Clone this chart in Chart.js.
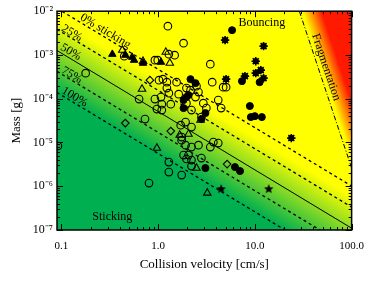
<!DOCTYPE html>
<html><head><meta charset="utf-8">
<script src="https://cdn.jsdelivr.net/npm/chart.js@4/dist/chart.umd.min.js"></script>
<style>html,body{margin:0;padding:0;background:#fff;}canvas{display:block;}</style>
</head><body>
<canvas id="c" width="374" height="281"></canvas>
<script>
// ---------------- data ----------------
const xTickValues = [0.1, 1, 10, 100];
const xTickLabels = ['0.1', '1.0', '10.0', '100.0'];
const yTickValues = [1e-7, 1e-6, 1e-5, 1e-4, 1e-3, 1e-2];

// sticking-probability contours: m = massAt1 * v^(stickSlope)
const stickLevels = ['0%', '25%', '50%', '75%', '100%'];
const stickMassAt1 = [4.7e-4, 1.55e-4, 5.1e-5, 1.7e-5, 5.6e-6];
const stickSlope = -4 / 3;

// fragmentation threshold (two points)
const fragVel = [28.8, 100];
const fragMass = [1e-2, 2.6e-6];

const openCircleVel  = [1.26,1.83,0.446,0.925,0.99,1.29,1.48,0.178,1.02,1.12,1.55,1.23,1.63,0.635,0.925,1.07,1.09,0.97,1.09,1.35,0.731,1.71,3.46,1.96,2.16,2.49,2.61,3.62,4.70,5.04,4.18,4.48,2.93,3.15,1.96,2.21,2.43,1.92,2.21,2.80,1.75,1.92,2.21,2.61,3.72,4.18,3.46,1.83,2.06,2.21,1.96,1.29,1.29,2.21,2.80,1.75,0.804,0.092,1.75,1.23,1.29];
const openCircleMass = [4.55e-3,1.86e-3,9.4e-4,7.6e-4,7.6e-4,1.04e-3,9.9e-4,3.84e-4,2.66e-4,2.8e-4,2.39e-4,1.75e-4,1.27e-4,9.8e-5,9.8e-5,1.09e-4,7.5e-5,5.8e-5,5.5e-5,7.5e-5,3.42e-5,2.49e-5,6.17e-4,1.75e-4,1.57e-4,1.94e-4,1.42e-4,2.39e-4,1.84e-4,1.84e-4,9.3e-5,6.1e-5,7.9e-5,6.1e-5,7.9e-5,5.5e-5,1.09e-4,2.92e-5,2.25e-5,3.8e-5,1.13e-5,8.7e-6,7.85e-6,8.7e-6,1.02e-5,9.7e-6,7.85e-6,5.15e-6,5.15e-6,3.96e-6,4.2e-6,3.57e-6,2.11e-6,2.89e-6,4.4e-6,1.8e-6,1.18e-6,8.3e-6,1.33e-5,2.39e-4,1.34e-4];

const filledCircleVel  = [1.83,1.83,5.81,7.35,11.2,2.16,2.43,2.06,1.96,8.87,9.08,9.98,11.8,3.08,2.80,3.08,6.22,7.02];
const filledCircleMass = [9.3e-5,6.1e-5,3.68e-3,2.52e-4,2.39e-4,2.8e-4,2.27e-4,1.21e-4,1.09e-4,6.8e-5,3.8e-5,4.0e-5,3.8e-5,4.7e-5,3.42e-5,2.6e-6,2.74e-6,2.22e-6];

const asteriskVel  = [4.92,12.3,10.2,10.2,11.5,12.3,7.89,5.04,23.8];
const asteriskMass = [2.18e-3,1.59e-3,7.2e-4,3.84e-4,4.5e-4,2.95e-4,3.28e-4,2.8e-4,1.26e-5];

const filledTriVel  = [0.336,0.457,0.538,0.564,0.698,1.07];
const filledTriMass = [1.04e-3,9.9e-4,8.9e-4,7.6e-4,6.5e-4,6.85e-4];

const openTriVel  = [0.426,0.698,1.20,1.32,0.681,1.67,2.06,2.74,0.97,2.49,3.22];
const openTriMass = [1.29e-3,7.2e-4,1.16e-3,6.5e-4,1.66e-4,1.48e-5,1.56e-5,3.24e-5,7.45e-6,2.6e-6,7.0e-7];

const diamondVel  = [0.822,0.457,1.35,5.16];
const diamondMass = [2.66e-4,2.77e-5,1.82e-5,3.21e-6];

const starVel  = [4.48,13.9];
const starMass = [8.6e-7,8.6e-7];

// ---------------- helpers ----------------
const SERIF = "'Liberation Serif','Times New Roman',serif";
const pts = (vs, ms) => vs.map((v, i) => ({x: v, y: ms[i]}));
const xMin = 0.09, xMax = 100, yMin = 1e-7, yMax = 1e-2;

function makeStar(r) {
  const s = Math.ceil(r * 2 + 2);
  const c = document.createElement('canvas'); c.width = s; c.height = s;
  const g = c.getContext('2d'); g.translate(s / 2, s / 2);
  g.beginPath();
  for (let k = 0; k < 10; k++) {
    const rr = k % 2 ? r * 0.45 : r, a = -Math.PI / 2 + k * Math.PI / 5;
    g.lineTo(rr * Math.cos(a), rr * Math.sin(a));
  }
  g.closePath(); g.fillStyle = '#000'; g.fill();
  return c;
}

const mk = (label, data, style, r, fill, bw) => ({
  label, data, pointStyle: style, pointRadius: r, borderColor: '#000',
  backgroundColor: fill ? '#000' : 'rgba(0,0,0,0)', borderWidth: bw || 1, showLine: false
});

const markerSets = [
  mk('asterisk', pts(asteriskVel, asteriskMass), 'star', 4.2, false, 1.6),
  mk('asteriskCore', pts(asteriskVel, asteriskMass), 'circle', 2.7, true, 1),
  mk('stars', pts(starVel, starMass), makeStar(5), 5, true, 1),
  mk('filledCircles', pts(filledCircleVel, filledCircleMass), 'circle', 3.5, true, 1),
  mk('openCircles', pts(openCircleVel, openCircleMass), 'circle', 3.8, false, 1.1),
  mk('filledTri', pts(filledTriVel, filledTriMass), 'triangle', 4.3, true, 1),
  mk('openTri', pts(openTriVel, openTriMass), 'triangle', 4.3, false, 1.1),
  mk('diamonds', pts(diamondVel, diamondMass), 'rectRot', 3.8, false, 1.1)
];

const lineSets = stickLevels.map((lab, i) => ({
  label: lab,
  data: [xMin, xMax].map(v => ({x: v, y: stickMassAt1[i] * Math.pow(v, stickSlope)})),
  showLine: true, pointRadius: 0, borderColor: '#000',
  borderWidth: i === 2 ? 1 : 1.3, borderDash: i === 2 ? [] : [3, 3]
}));
lineSets.push({
  label: 'fragmentation', data: pts(fragVel, fragMass), showLine: true, pointRadius: 0,
  borderColor: '#000', borderWidth: 1, borderDash: [5, 2, 1, 2]
});

// ---------------- background field ----------------
const YEL = [255, 255, 0], GRN = [0, 176, 80], ORG = [255, 140, 0], RED = [255, 25, 0];
const mix = (a, b, t) => [a[0] + (b[0] - a[0]) * t, a[1] + (b[1] - a[1]) * t, a[2] + (b[2] - a[2]) * t];
const clamp = t => Math.max(0, Math.min(1, t));

const bgPlugin = {
  id: 'bgField',
  beforeDatasetsDraw(chart) {
    const {ctx, chartArea: a, scales: {x, y}} = chart;
    const w = Math.round(a.right - a.left), h = Math.round(a.bottom - a.top);
    const off = document.createElement('canvas'); off.width = w; off.height = h;
    const o = off.getContext('2d'); const img = o.createImageData(w, h);
    const cTop = Math.log10(stickMassAt1[1]) + 0.25, cBot = Math.log10(stickMassAt1[4]);
    const lv0 = Math.log10(fragVel[0]), lv1 = Math.log10(fragVel[1]);
    const lm0 = Math.log10(fragMass[0]), lm1 = Math.log10(fragMass[1]);
    const lvs = []; for (let i = 0; i < w; i++) lvs.push(Math.log10(x.getValueForPixel(a.left + i + 0.5)));
    for (let j = 0; j < h; j++) {
      const lm = Math.log10(y.getValueForPixel(a.top + j + 0.5));
      const lvf = lv0 + (lm - lm0) * (lv1 - lv0) / (lm1 - lm0);
      for (let i = 0; i < w; i++) {
        const lv = lvs[i];
        const d = lm - stickSlope * lv;
        let col = mix(YEL, GRN, clamp((cTop - d) / (cTop - cBot)));
        const f = lv - lvf;
        if (f > 0.03) {
          const tr = clamp((f - 0.03) / 0.2);
          col = tr < 0.5 ? mix(col, ORG, tr * 2) : mix(ORG, RED, tr * 2 - 1);
        }
        const k = (j * w + i) * 4;
        img.data[k] = col[0]; img.data[k + 1] = col[1]; img.data[k + 2] = col[2]; img.data[k + 3] = 255;
      }
    }
    o.putImageData(img, 0, 0);
    ctx.drawImage(off, a.left, a.top);
  }
};

// ---------------- labels, inner ticks, frame ----------------
const textLabels = [
  {text: 'Bouncing', v: 11.8, m: 5.3e-3, along: null},
  {text: 'Sticking', v: 0.336, m: 1.98e-7, along: null},
  {text: 'Fragmentation', v: 54.3, m: 5.26e-4, along: 'frag'},
  {text: '0% sticking', v: 0.285, m: 3.5e-3, along: 'stick'},
  {text: '25%', v: 0.128, m: 3.15e-3, along: 'stick'},
  {text: '50%', v: 0.125, m: 1.16e-3, along: 'stick'},
  {text: '75%', v: 0.128, m: 3.46e-4, along: 'stick'},
  {text: '100%', v: 0.137, m: 1.09e-4, along: 'stick'}
];

const decorPlugin = {
  id: 'decor',
  afterDatasetsDraw(chart) {
    const {ctx, scales: {x, y}} = chart;
    const stickAng = Math.atan2(
      y.getPixelForValue(stickMassAt1[2] * Math.pow(10, stickSlope)) - y.getPixelForValue(stickMassAt1[2]),
      x.getPixelForValue(10) - x.getPixelForValue(1));
    const fragAng = Math.atan2(
      y.getPixelForValue(fragMass[1]) - y.getPixelForValue(fragMass[0]),
      x.getPixelForValue(fragVel[1]) - x.getPixelForValue(fragVel[0]));
    ctx.save();
    ctx.fillStyle = '#000';
    ctx.font = '12px ' + SERIF;
    ctx.textAlign = 'center'; ctx.textBaseline = 'middle';
    textLabels.forEach(l => {
      ctx.save();
      ctx.translate(x.getPixelForValue(l.v), y.getPixelForValue(l.m));
      if (l.along === 'stick') ctx.rotate(stickAng);
      if (l.along === 'frag') ctx.rotate(fragAng);
      ctx.fillText(l.text, 0, 0);
      ctx.restore();
    });
    ctx.restore();
  },
  afterDraw(chart) {
    const {ctx, chartArea: a, scales: {x, y}} = chart;
    ctx.save();
    ctx.strokeStyle = '#000'; ctx.lineWidth = 1;
    ctx.beginPath();
    for (let k = -2; k <= 2; k++) for (let mlt = 1; mlt <= 9; mlt++) {
      const v = mlt * Math.pow(10, k);
      if (v < xMin * 1.001 || v > xMax * 1.001) continue;
      const px = Math.round(x.getPixelForValue(v)) + 0.5, len = mlt === 1 ? 6 : 3;
      ctx.moveTo(px, a.bottom); ctx.lineTo(px, a.bottom - len);
      ctx.moveTo(px, a.top); ctx.lineTo(px, a.top + len);
    }
    for (let k = -7; k <= -2; k++) for (let mlt = 1; mlt <= 9; mlt++) {
      const m = mlt * Math.pow(10, k);
      if (m < yMin * 0.999 || m > yMax * 1.001) continue;
      const py = Math.round(y.getPixelForValue(m)) + 0.5, len = mlt === 1 ? 6 : 3;
      ctx.moveTo(a.left, py); ctx.lineTo(a.left + len, py);
      ctx.moveTo(a.right, py); ctx.lineTo(a.right - len, py);
    }
    ctx.stroke();
    ctx.lineWidth = 1.5;
    ctx.strokeRect(a.left, a.top, a.right - a.left, a.bottom - a.top);
    ctx.restore();
  }
};

const SUP = {'0':'⁰','1':'¹','2':'²','3':'³','4':'⁴','5':'⁵','6':'⁶','7':'⁷','8':'⁸','9':'⁹','-':'⁻'};
const powLabel = v => '10' + String(Math.round(Math.log10(v))).split('').map(ch => SUP[ch]).join('');

new Chart(document.getElementById('c'), {
  type: 'scatter',
  data: {datasets: [...markerSets, ...lineSets]},
  options: {
    responsive: false, animation: false, events: [],
    layout: {padding: {top: 11, right: 19, left: 0, bottom: 0}},
    plugins: {legend: {display: false}, tooltip: {enabled: false}},
    scales: {
      x: {
        type: 'logarithmic', position: 'bottom', min: xMin, max: xMax,
        afterBuildTicks(s) { s.ticks = xTickValues.map(v => ({value: v})); },
        afterFit(s) { s.height = 51; },
        ticks: {callback: (v, i) => xTickLabels[i], padding: 10, color: '#000', maxRotation: 0, autoSkip: false,
                font: {family: SERIF, size: 11}},
        grid: {display: false, drawTicks: false}, border: {display: false},
        title: {display: true, text: 'Collision velocity [cm/s]', color: '#000',
                font: {family: SERIF, size: 13}, padding: {top: 0, bottom: 9}}
      },
      y: {
        type: 'logarithmic', position: 'left', min: yMin, max: yMax,
        afterBuildTicks(s) { s.ticks = yTickValues.map(v => ({value: v})); },
        afterFit(s) { s.width = 57; },
        ticks: {callback: v => powLabel(v), padding: 4, color: '#000', autoSkip: false,
                font: {family: SERIF, size: 12}},
        grid: {display: false, drawTicks: false}, border: {display: false},
        title: {display: true, text: 'Mass [g]', color: '#000',
                font: {family: SERIF, size: 13}, padding: {top: 9, bottom: 0}}
      }
    }
  },
  plugins: [bgPlugin, decorPlugin]
});
</script>
</body></html>
